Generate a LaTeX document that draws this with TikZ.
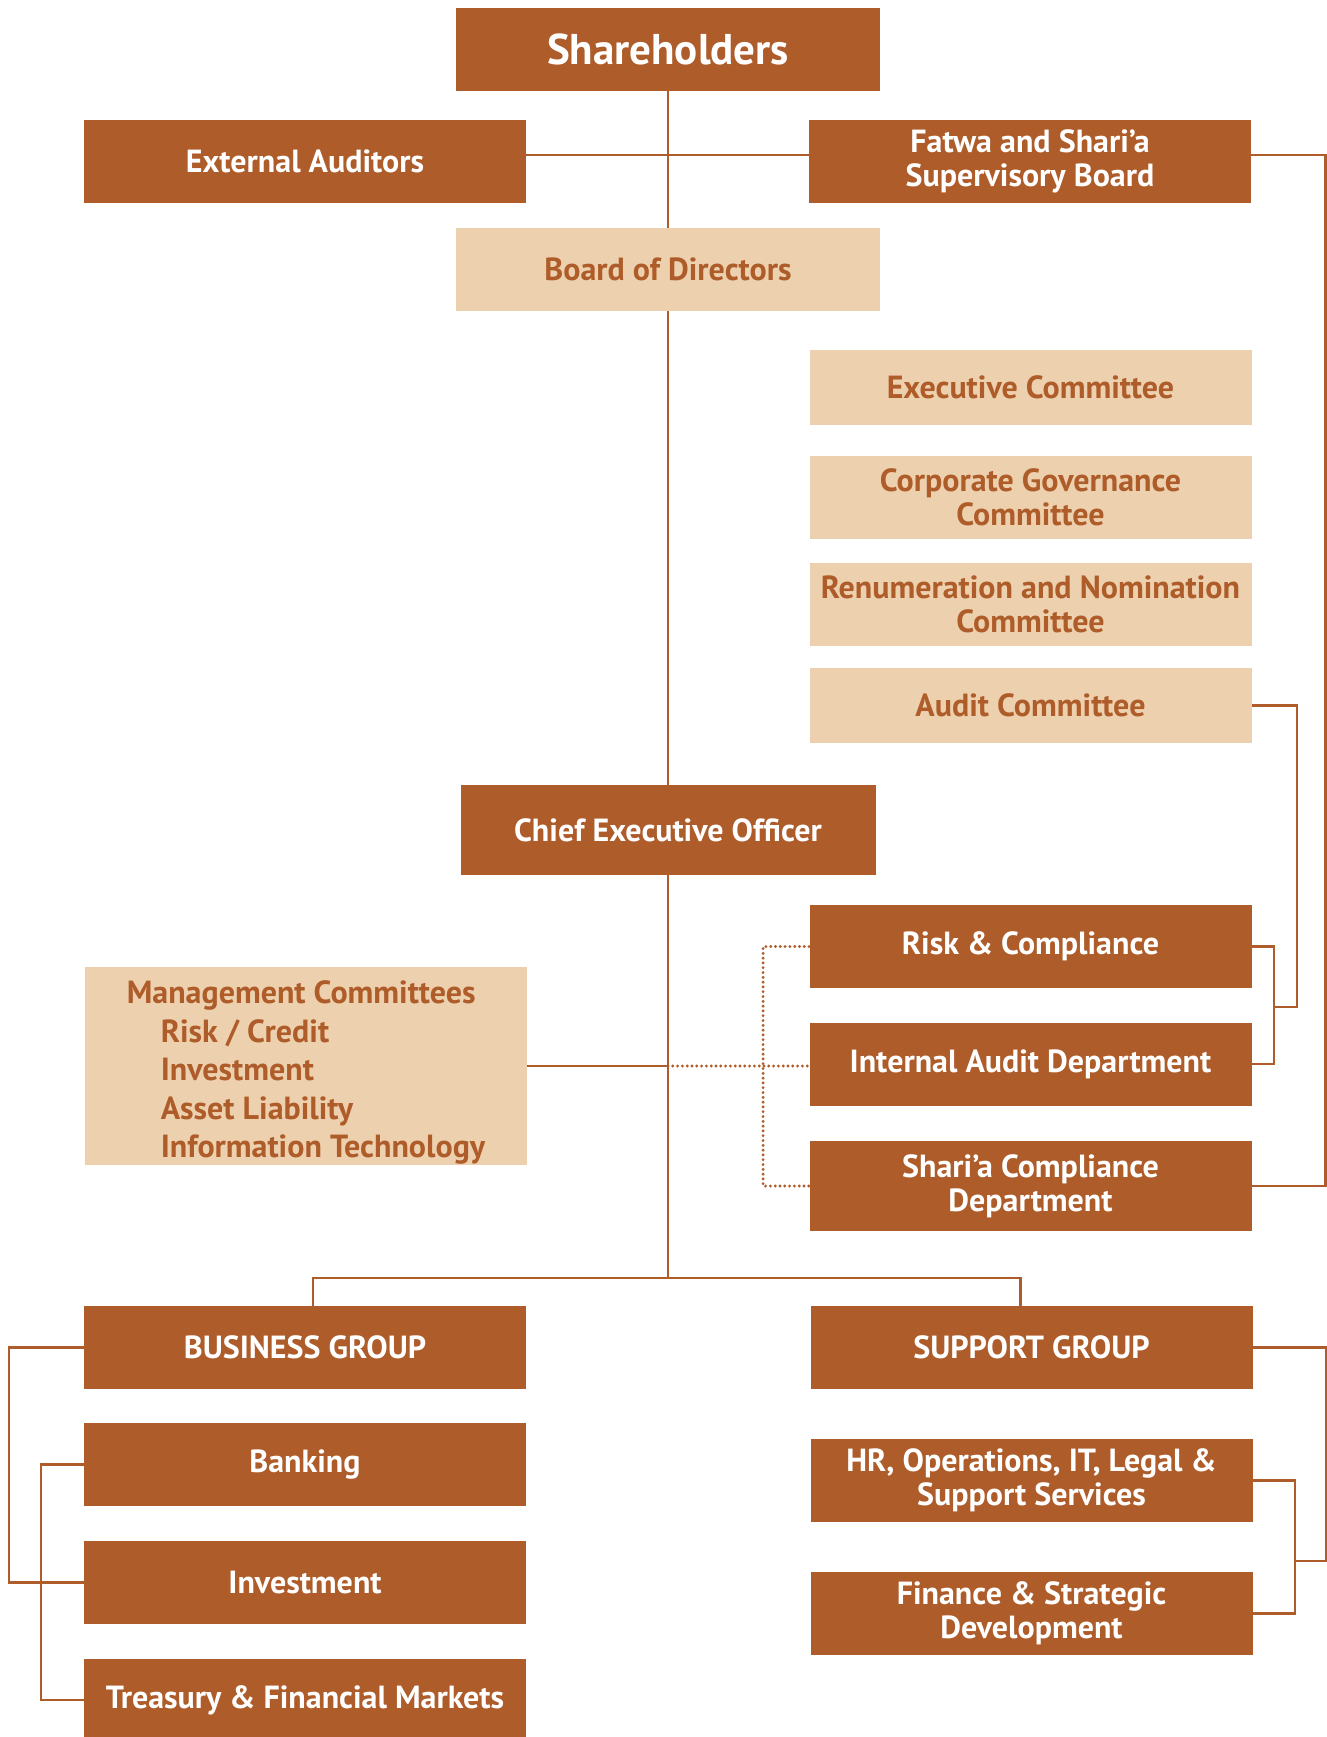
\documentclass[tikz,border=0pt]{standalone}
\usepackage{fontspec}
\setmainfont{PT Sans}
\usepackage{tikz}
\usetikzlibrary{positioning,backgrounds}
\definecolor{rust}{HTML}{AE5C29}
\definecolor{sand}{HTML}{EDD0AE}
\tikzset{
  darkbox/.style={fill=rust, text=white, font=\bfseries\fontsize{16}{17}\selectfont, align=center, minimum width=221pt, minimum height=41.5pt, inner sep=2pt},
  lightbox/.style={darkbox, fill=sand, text=rust},
  link/.style={draw=rust, line width=1.1pt},
  dotlink/.style={draw=rust, line width=1.6pt, line cap=round, dash pattern=on 0pt off 2.4pt}
}

\begin{document}
\begin{tikzpicture}[x=0.5pt, y=-0.5pt]
  \useasboundingbox (0,0) rectangle (1327,1737);
  \node[darkbox, minimum width=212pt, font=\bfseries\fontsize{21.5}{24}\selectfont] (share) at (668,49.5) {Shareholders};
  \node[darkbox] (extaud) at (305,161) {External Auditors};
  \node[darkbox] (fatwa) at (1030,161) {Fatwa and Shari’a\\Supervisory Board};
  \node[lightbox, minimum width=212pt] (board) at (668,269.5) {Board of Directors};
  \node[lightbox, minimum height=37.5pt] (exec) at (1030.5,387.5) {Executive Committee};
  \node[lightbox] (corpgov) at (1030.5,497) {Corporate Governance\\Committee};
  \node[lightbox] (renum) at (1030.5,604) {Renumeration and Nomination\\Committee};
  \node[lightbox, minimum height=37.5pt] (auditc) at (1030.5,705.5) {Audit Committee};
  \node[darkbox, minimum width=207.5pt, minimum height=45pt] (ceo) at (668,830) {Chief Executive Officer};
  \node[darkbox] (risk) at (1030.5,946.5) {Risk \& Compliance};
  \node[darkbox] (intaud) at (1030.5,1064) {Internal Audit Department};
  \node[darkbox, minimum height=45pt] (sharcomp) at (1030.5,1186) {Shari’a Compliance\\Department};
  \node[lightbox, minimum height=99pt, inner ysep=0pt, align=left, font=\bfseries\fontsize{16}{19.2}\selectfont] (mgmt) at (306,1066) {\rule{0pt}{18pt}Management Committees\\\hspace*{17pt}Risk / Credit\\\hspace*{17pt}Investment\\\hspace*{17pt}Asset Liability\\\hspace*{17pt}Information Technology};
  \node[darkbox] (bizgrp) at (305,1347.5) {BUSINESS GROUP};
  \node[darkbox] (banking) at (305,1464.5) {Banking};
  \node[darkbox] (invest) at (305,1582.5) {Investment};
  \node[darkbox] (treasury) at (305,1700) {Treasury \& Financial Markets};
  \node[darkbox] (suppgrp) at (1031.5,1347.5) {SUPPORT GROUP};
  \node[darkbox] (hr) at (1031.5,1480.5) {HR, Operations, IT, Legal \&\\Support Services};
  \node[darkbox] (finance) at (1031.5,1613.5) {Finance \& Strategic\\Development};
  \coordinate (split) at (668,1278);
  \coordinate (rijoin) at (1273,1007);
  \coordinate (hrjoin) at (1294,1561);
  \begin{scope}[on background layer]
    \draw[link] (share) -- (ceo);
    \draw[link] ([yshift=3pt]extaud.east) -- ([yshift=3pt]fatwa.west);
    \draw[link] ([yshift=3pt]fatwa.east) -- ++(74,0) |- (sharcomp.east);
    \draw[link] (auditc.east) -- ++(45,0) |- (rijoin);
    \draw[link] (risk.east) -- ++(22,0) |- (intaud.east);
    \draw[link] (ceo) -- (split);
    \draw[link] (mgmt.east) -- (mgmt.east -| split);
    \draw[dotlink] (mgmt.east -| split) -- (intaud.west |- mgmt.east);
    \draw[dotlink] (risk.west) -- ++(-46,0) |- (sharcomp.west);
    \draw[link] ([xshift=4pt]bizgrp.north) |- (split) -| ([xshift=-5.5pt]suppgrp.north);
    \draw[link] (bizgrp.west) -- ++(-75,0) |- (invest.west);
    \draw[link] (banking.west) -- ++(-43,0) |- (treasury.west);
    \draw[link] (suppgrp.east) -- ++(73,0) |- (hrjoin);
    \draw[link] (hr.east) -- ++(42,0) |- (finance.east);
  \end{scope}
\end{tikzpicture}
\end{document}
